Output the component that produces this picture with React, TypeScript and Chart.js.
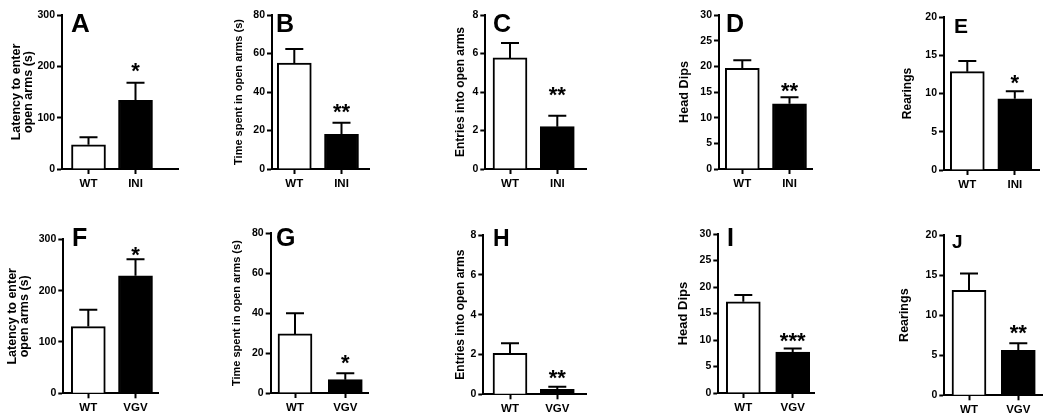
import React, { useEffect, useRef } from 'react';
import { Chart, registerables } from 'chart.js';

Chart.register(...registerables);

const FONT = '"Liberation Sans", Arial, Helvetica, sans-serif';

// ---------- data ----------
const categoriesTop = ['WT', 'INI'];
const categoriesBottom = ['WT', 'VGV'];
const panelLetters = ['A', 'B', 'C', 'D', 'E', 'F', 'G', 'H', 'I', 'J'];
const yTitles: (string | string[])[] = [
  ['Latency to enter', 'open arms (s)'],
  'Time spent in open arms (s)',
  'Entries into open arms',
  'Head Dips',
  'Rearings',
  ['Latency to enter', 'open arms (s)'],
  'Time spent in open arms (s)',
  'Entries into open arms',
  'Head Dips',
  'Rearings',
];
const yMax = [300, 80, 8, 30, 20, 300, 80, 8, 30, 20];
const yStep = [100, 20, 2, 5, 5, 100, 20, 2, 5, 5];
const meanControl = [47, 55, 5.77, 19.6, 12.85, 130, 29.6, 2.06, 17.2, 13.1];
const semControl = [15, 7.3, 0.78, 1.6, 1.4, 33, 10.3, 0.5, 1.3, 2.1];
const meanMutant = [134, 18, 2.2, 12.7, 9.3, 229, 6.7, 0.25, 7.7, 5.6];
const semMutant = [34, 6, 0.57, 1.3, 1.0, 32, 3.2, 0.13, 0.7, 0.9];
const significance = ['*', '**', '**', '**', '*', '*', '*', '**', '***', '**'];

// ---------- layout (page pixels) ----------
const PANEL_W = 210;
const PANEL_H = 210;
type Geo = {
  L: number; R: number; top: number; zero: number; c1: number; c2: number;
  titleX: number; titleSize: number; titleLH: number;
  letterX: number; letterY: number; letterSize: number; starGap: number;
};
const geometry: Geo[] = [
  { L: 62, R: 178, top: 15, zero: 169, c1: 88.5, c2: 135.5, titleX: 16.5, titleSize: 12.5, titleLH: 12, letterX: 72, letterY: 32, letterSize: 26, starGap: 15.7 },
  { L: 272, R: 369, top: 15, zero: 169, c1: 294.3, c2: 341.5, titleX: 239, titleSize: 11, titleLH: 13, letterX: 277, letterY: 32, letterSize: 25, starGap: 15 },
  { L: 485.3, R: 586.7, top: 15, zero: 169, c1: 510, c2: 557.3, titleX: 461, titleSize: 12, titleLH: 13, letterX: 494, letterY: 32, letterSize: 25, starGap: 25 },
  { L: 719, R: 812.7, top: 15, zero: 169, c1: 742.3, c2: 789.5, titleX: 684, titleSize: 12.7, titleLH: 13, letterX: 727, letterY: 32, letterSize: 25, starGap: 10.5 },
  { L: 944, R: 1039, top: 17, zero: 170, c1: 967.3, c2: 1014.8, titleX: 908, titleSize: 12, titleLH: 13, letterX: 955, letterY: 33, letterSize: 21, starGap: 12 },
  { L: 63.3, R: 158, top: 239.3, zero: 393.3, c1: 88.3, c2: 135.5, titleX: 12.5, titleSize: 12.5, titleLH: 12, letterX: 73, letterY: 246, letterSize: 25, starGap: 9 },
  { L: 270.7, R: 368, top: 233.3, zero: 393, c1: 295, c2: 345.3, titleX: 237, titleSize: 11, titleLH: 13, letterX: 277, letterY: 246, letterSize: 25, starGap: 14 },
  { L: 483.3, R: 586, top: 235, zero: 394.3, c1: 510, c2: 557.3, titleX: 461, titleSize: 12, titleLH: 13, letterX: 494, letterY: 246, letterSize: 23, starGap: 13 },
  { L: 718.3, R: 814, top: 234, zero: 393, c1: 743.3, c2: 792.7, titleX: 683, titleSize: 13, titleLH: 13, letterX: 728, letterY: 246, letterSize: 25, starGap: 11.5 },
  { L: 944.3, R: 1042.7, top: 235, zero: 395.3, c1: 969, c2: 1018.3, titleX: 905, titleSize: 12.5, titleLH: 13, letterX: 953, letterY: 248, letterSize: 19, starGap: 14 },
];
const BAR_THICKNESS = 34;
const CAP_WIDTH = 18;
const STAR_SIZE = 22;

function Panel({ i }: { i: number }) {
  const ref = useRef<HTMLCanvasElement>(null);
  useEffect(() => {
    if (!ref.current) return;
    const g = geometry[i];
    const px = (i % 5) * PANEL_W;
    const py = Math.floor(i / 5) * PANEL_H;
    const left = g.L - px;
    const right = g.R - px;
    const top = g.top - py;
    const bottom = g.zero - py;
    const span = g.c2 - g.c1;
    const labels = i < 5 ? categoriesTop : categoriesBottom;
    const means = [meanControl[i], meanMutant[i]];
    const sems = [semControl[i], semMutant[i]];

    const overlay = {
      id: 'overlay' + i,
      afterDatasetsDraw(chart: any) {
        const ctx = chart.ctx as CanvasRenderingContext2D;
        const ys = chart.scales.y;
        const meta = chart.getDatasetMeta(0);
        ctx.save();
        ctx.strokeStyle = '#000';
        ctx.lineWidth = 2;
        meta.data.forEach((el: any, k: number) => {
          const x = el.x;
          const y0 = ys.getPixelForValue(means[k]);
          const y1 = ys.getPixelForValue(means[k] + sems[k]);
          ctx.beginPath();
          ctx.moveTo(x, y0);
          ctx.lineTo(x, y1);
          ctx.moveTo(x - CAP_WIDTH / 2, y1);
          ctx.lineTo(x + CAP_WIDTH / 2, y1);
          ctx.stroke();
        });
        // significance stars above mutant bar
        const el = meta.data[1];
        const yErr = ys.getPixelForValue(means[1] + sems[1]);
        ctx.fillStyle = '#000';
        ctx.font = `bold ${STAR_SIZE}px ${FONT}`;
        ctx.textAlign = 'center';
        ctx.textBaseline = 'alphabetic';
        ctx.fillText(significance[i], el.x, yErr - g.starGap + STAR_SIZE * 0.51);
        // panel letter
        ctx.font = `bold ${g.letterSize}px ${FONT}`;
        ctx.textAlign = 'left';
        ctx.fillText(panelLetters[i], g.letterX - px - 1, g.letterY - py);
        ctx.restore();
      },
    };

    const tickFont = { family: FONT, size: 10.5, weight: 'bold' as const };
    const chart = new Chart(ref.current, {
      type: 'bar',
      data: {
        datasets: [
          {
            data: [
              { x: 0, y: means[0] },
              { x: 1, y: means[1] },
            ],
            backgroundColor: ['#ffffff', '#000000'],
            borderColor: '#000000',
            borderWidth: 2,
            barThickness: BAR_THICKNESS,
          } as any,
        ],
      },
      options: {
        animation: false,
        responsive: false,
        devicePixelRatio: 1,
        events: [],
        layout: { padding: { left: 0, top, right: PANEL_W - right, bottom: 0 } },
        plugins: { legend: { display: false }, tooltip: { enabled: false }, title: { display: false } },
        scales: {
          x: {
            type: 'linear',
            min: -(g.c1 - g.L) / span,
            max: 1 + (g.R - g.c2) / span,
            offset: false,
            z: 1,
            afterBuildTicks: (s: any) => {
              s.ticks = [{ value: 0 }, { value: 1 }];
            },
            afterFit: (s: any) => {
              s.height = PANEL_H - bottom;
            },
            ticks: {
              callback: (v: any) => labels[v as number],
              font: { family: FONT, size: 11.5, weight: 'bold' },
              color: '#000',
              padding: 3,
              autoSkip: false,
              maxRotation: 0,
            },
            grid: {
              display: true,
              drawOnChartArea: false,
              drawTicks: true,
              tickLength: 5,
              tickWidth: 2,
              tickColor: '#000',
              offset: false,
            },
            border: { display: true, color: '#000', width: 2 },
          } as any,
          y: {
            type: 'linear',
            min: 0,
            max: yMax[i],
            z: 1,
            afterFit: (s: any) => {
              s.width = left;
            },
            ticks: { stepSize: yStep[i], font: tickFont, color: '#000', padding: 2 },
            title: {
              display: true,
              text: yTitles[i],
              color: '#000',
              font: { family: FONT, size: g.titleSize, weight: 'bold', lineHeight: g.titleLH / g.titleSize },
              padding: { top: g.titleX - px - g.titleLH / 2, bottom: 0 },
            },
            grid: {
              display: true,
              drawOnChartArea: false,
              drawTicks: true,
              tickLength: 5,
              tickWidth: 2,
              tickColor: '#000',
            },
            border: { display: true, color: '#000', width: 2 },
          } as any,
        },
      },
      plugins: [overlay],
    });
    return () => chart.destroy();
  }, [i]);

  const px = (i % 5) * PANEL_W;
  const py = Math.floor(i / 5) * PANEL_H;
  return (
    <div style={{ position: 'absolute', left: px, top: py, width: PANEL_W, height: PANEL_H }}>
      <canvas ref={ref} width={PANEL_W} height={PANEL_H} style={{ display: 'block', width: PANEL_W, height: PANEL_H }} />
    </div>
  );
}

export default function App() {
  return (
    <div style={{ position: 'absolute', left: 0, top: 0, width: 1050, height: 420, background: '#fff' }}>
      {panelLetters.map((_, i) => (
        <Panel key={i} i={i} />
      ))}
    </div>
  );
}
